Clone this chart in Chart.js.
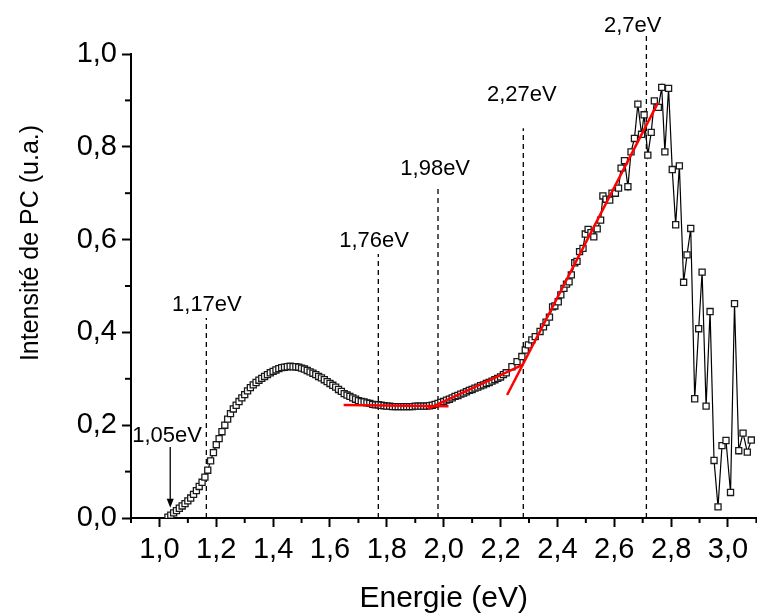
<!DOCTYPE html>
<html>
<head>
<meta charset="utf-8">
<script src="https://cdn.jsdelivr.net/npm/chart.js@4.4.0/dist/chart.umd.min.js"></script>
<style>
html, body { margin: 0; padding: 0; overflow: hidden; background: #fff; }
</style>
</head>
<body>
<canvas id="graphique" width="762" height="614"></canvas>
<script>
// Photocourant mesure : energie (eV) et intensite (u.a.)
const energie = [
 1.03,1.04,1.05,1.06,1.07,1.08,1.09,1.10,1.11,1.12,1.13,1.14,1.15,1.16,1.17,1.18,1.19,
 1.20,1.21,1.22,1.23,1.24,1.25,1.26,1.27,1.28,1.29,1.30,1.31,1.32,1.33,1.34,1.35,1.36,1.37,1.38,1.39,
 1.40,1.41,1.42,1.43,1.44,1.45,1.46,1.47,1.48,1.49,1.50,1.51,1.52,1.53,1.54,1.55,1.56,1.57,1.58,1.59,
 1.60,1.61,1.62,1.63,1.64,1.65,1.66,1.67,1.68,1.69,1.70,1.71,1.72,1.73,1.74,1.75,1.76,1.77,1.78,1.79,
 1.80,1.81,1.82,1.83,1.84,1.85,1.86,1.87,1.88,1.89,1.90,1.91,1.92,1.93,1.94,1.95,1.96,1.97,1.98,1.99,
 2.00,2.01,2.02,2.03,2.04,2.05,2.06,2.07,2.08,2.09,2.10,2.11,2.12,2.13,2.14,2.15,2.16,2.17,2.18,2.19,
 2.20,2.21,2.22,
 2.240,2.258,2.275,2.287,2.298,2.310,2.322,2.339,2.351,2.360,2.372,2.383,2.391,2.403,2.412,2.423,
 2.432,2.441,2.449,2.461,2.469,2.478,2.490,2.498,2.508,2.518,2.528,2.540,2.552,2.560,2.571,2.584,
 2.592,2.604,2.615,2.624,2.636,2.648,2.659,2.671,2.683,2.696,2.705,2.718,2.730,2.741,2.755,2.767,
 2.778,2.791,2.804,2.816,2.829,2.844,2.856,2.869,2.883,2.897,2.909,2.923,2.937,2.951,2.965,2.979,
 2.993,3.009,3.023,3.038,3.053,3.068,3.082
];
const intensite = [
 0.002,0.006,0.011,0.016,0.021,0.026,0.031,0.037,0.043,0.051,0.059,0.068,0.077,0.088,0.103,0.123,0.141,
 0.158,0.171,0.186,0.200,0.213,0.225,0.235,0.243,0.251,0.259,0.266,0.274,0.281,0.287,0.292,0.297,0.301,0.305,0.309,0.313,
 0.316,0.319,0.322,0.324,0.325,0.326,0.327,0.326,0.326,0.325,0.323,0.321,0.318,0.315,0.312,0.309,0.305,0.302,0.298,0.294,
 0.290,0.286,0.282,0.277,0.273,0.268,0.265,0.262,0.259,0.256,0.253,0.251,0.250,0.248,0.247,0.245,0.244,0.244,0.243,0.242,
 0.241,0.241,0.240,0.240,0.240,0.240,0.240,0.240,0.240,0.240,0.241,0.241,0.241,0.241,0.241,0.242,0.243,0.245,0.247,0.249,
 0.251,0.254,0.256,0.259,0.262,0.264,0.267,0.269,0.272,0.275,0.277,0.280,0.282,0.285,0.287,0.290,0.292,0.295,0.298,0.301,
 0.304,0.309,0.313,
 0.326,0.337,0.348,0.362,0.373,0.384,0.391,0.402,0.412,0.422,0.433,0.455,0.457,0.466,0.481,0.495,
 0.504,0.509,0.524,0.550,0.553,0.574,0.581,0.612,0.622,0.615,0.606,0.623,0.642,0.694,0.687,0.685,
 0.700,0.700,0.711,0.754,0.770,0.714,0.789,0.818,0.892,0.827,0.869,0.782,0.831,0.899,0.885,0.928,
 0.789,0.926,0.751,0.632,0.759,0.508,0.567,0.624,0.257,0.408,0.530,0.241,0.445,0.124,0.024,0.156,
 0.167,0.055,0.462,0.145,0.183,0.142,0.168
];

// Axes
const xMajeurs = [1.0,1.2,1.4,1.6,1.8,2.0,2.2,2.4,2.6,2.8,3.0];
const xEtiquettes = ['1,0','1,2','1,4','1,6','1,8','2,0','2,2','2,4','2,6','2,8','3,0'];
const xMineurs = [0.9,1.1,1.3,1.5,1.7,1.9,2.1,2.3,2.5,2.7,2.9,3.1];
const yMajeurs = [0.0,0.2,0.4,0.6,0.8,1.0];
const yEtiquettes = ['0,0','0,2','0,4','0,6','0,8','1,0'];
const yMineurs = [0.1,0.3,0.5,0.7,0.9];

// Lignes verticales en pointilles (gaps) : position et hauteur
const gapX =    [1.165, 1.77, 1.98, 2.28, 2.713];
const gapHaut = [0.431, 0.569, 0.714, 0.840, 1.041];
const gapTexte = ['1,17eV','1,76eV','1,98eV','2,27eV','2,7eV'];
const texteX =   [1.167, 1.755, 1.970, 2.275, 2.665];
const texteY =   [0.446, 0.585, 0.739, 0.899, 1.048];

// Fleche du seuil 1,05eV
const flecheX = 1.038;
const flecheHaut = 0.153;
const flecheBas = 0.022;
const seuilTexte = '1,05eV';
const seuilTexteX = 1.027;
const seuilTexteY = 0.164;

// Tangentes rouges (x debut, y debut, x fin, y fin)
const tangenteA = [1.648, 0.2435, 2.017, 0.241];
const tangenteB = [1.944, 0.235, 2.281, 0.331];
const tangenteC = [2.223, 0.265, 2.753, 0.894];

const police = '"Liberation Sans", Arial, sans-serif';

function points(xs, ys){
	let tab = [];
	for(let i = 0 ; i < xs.length ; i++){
		tab.push({x: xs[i], y: ys[i]});
	}
	return tab;
}

function tangente(t){
	return {
		data: [{x: t[0], y: t[1]}, {x: t[2], y: t[3]}],
		showLine: true, borderColor: '#ff0000', borderWidth: 2.5,
		pointRadius: 0, order: 0
	};
}

let datasets = [tangente(tangenteA), tangente(tangenteB), tangente(tangenteC)];

datasets.push({
	data: points(energie, intensite),
	showLine: true,
	borderColor: '#000',
	borderWidth: 1.2,
	pointStyle: 'rect',
	pointRadius: 4.3,
	pointBackgroundColor: '#fff',
	pointBorderColor: '#1a1a1a',
	pointBorderWidth: 1.3,
	order: 1
});

for(let i = 0 ; i < gapX.length ; i++){
	datasets.push({
		data: [{x: gapX[i], y: 0}, {x: gapX[i], y: gapHaut[i]}],
		showLine: true, borderColor: '#000', borderWidth: 1.3, borderDash: [5, 4],
		pointRadius: 0, clip: false, order: 2
	});
}

// Textes, petites graduations, fleche et titres des axes
const decor = {
	id: 'decor',
	afterDatasetsDraw(chart){
		const ctx = chart.ctx;
		const sx = chart.scales.x;
		const sy = chart.scales.y;
		ctx.save();
		ctx.strokeStyle = '#000';
		ctx.fillStyle = '#000';

		//petites graduations
		ctx.lineWidth = 2;
		xMineurs.forEach(v => {
			const px = sx.getPixelForValue(v);
			ctx.beginPath();
			ctx.moveTo(px, sy.bottom);
			ctx.lineTo(px, sy.bottom + 5);
			ctx.stroke();
		});
		yMineurs.forEach(v => {
			const py = sy.getPixelForValue(v);
			ctx.beginPath();
			ctx.moveTo(sx.left, py);
			ctx.lineTo(sx.left - 6, py);
			ctx.stroke();
		});

		//etiquettes des gaps
		ctx.font = '22px ' + police;
		ctx.textAlign = 'center';
		ctx.textBaseline = 'alphabetic';
		for(let i = 0 ; i < gapTexte.length ; i++){
			ctx.fillText(gapTexte[i], sx.getPixelForValue(texteX[i]), sy.getPixelForValue(texteY[i]));
		}
		ctx.fillText(seuilTexte, sx.getPixelForValue(seuilTexteX), sy.getPixelForValue(seuilTexteY));

		//fleche
		const fx = sx.getPixelForValue(flecheX);
		const fh = sy.getPixelForValue(flecheHaut);
		const fb = sy.getPixelForValue(flecheBas);
		ctx.lineWidth = 1.3;
		ctx.beginPath();
		ctx.moveTo(fx, fh);
		ctx.lineTo(fx, fb - 6);
		ctx.stroke();
		ctx.beginPath();
		ctx.moveTo(fx, fb);
		ctx.lineTo(fx - 3.5, fb - 9);
		ctx.lineTo(fx + 3.5, fb - 9);
		ctx.closePath();
		ctx.fill();

		//titres
		ctx.font = '30px ' + police;
		ctx.textBaseline = 'alphabetic';
		ctx.fillText('Energie (eV)', (sx.left + sx.right) / 2, 607);
		ctx.save();
		ctx.translate(38, 243);
		ctx.rotate(-Math.PI / 2);
		ctx.font = '25px ' + police;
		ctx.fillText('Intensité de PC (u.a.)', 0, 0);
		ctx.restore();

		ctx.restore();
	}
};

const ctx = document.getElementById('graphique').getContext('2d');
const graph = new Chart(ctx, {
	type: 'scatter',
	data: { datasets: datasets },
	plugins: [decor],
	options: {
		responsive: false,
		animation: false,
		layout: { padding: { top: 54, right: 0, left: 0, bottom: 0 } },
		plugins: { legend: { display: false }, tooltip: { enabled: false } },
		scales: {
			x: {
				type: 'linear', position: 'bottom', min: 0.9, max: 3.1,
				afterBuildTicks: s => { s.ticks = xMajeurs.map(v => ({value: v})); },
				afterFit: s => { s.height = 96; },
				ticks: {
					autoSkip: false, maxRotation: 0, padding: 6, color: '#000',
					font: { family: police, size: 29 },
					callback: (v, i) => xEtiquettes[i]
				},
				grid: { display: true, drawOnChartArea: false, drawTicks: true, tickLength: 9, tickWidth: 2, color: '#000' },
				border: { display: true, color: '#000', width: 2 }
			},
			y: {
				type: 'linear', min: 0, max: 1,
				afterBuildTicks: s => { s.ticks = yMajeurs.map(v => ({value: v})); },
				afterFit: s => { s.width = 131; },
				ticks: {
					autoSkip: false, padding: 5, color: '#000',
					font: { family: police, size: 29 },
					callback: (v, i) => yEtiquettes[i]
				},
				grid: { display: true, drawOnChartArea: false, drawTicks: true, tickLength: 9, tickWidth: 2, color: '#000' },
				border: { display: true, color: '#000', width: 2 }
			}
		}
	}
});
</script>
</body>
</html>
